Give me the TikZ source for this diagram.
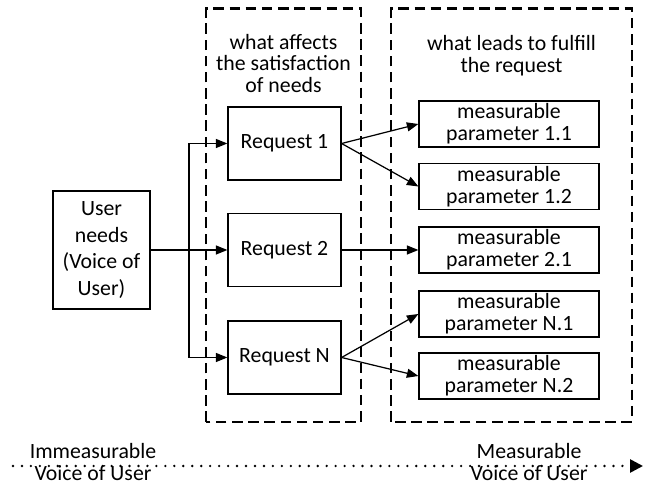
\documentclass[tikz,border=0pt]{standalone}
\usepackage{fontspec}
\setmainfont{Carlito}
\usetikzlibrary{arrows.meta,positioning,calc}

\begin{document}
\begin{tikzpicture}[
  font=\fontsize{12.4}{12.5}\selectfont,
  box/.style={draw, line width=0.7pt, align=center, inner sep=0pt},
  reqbox/.style={box, minimum width=2.26cm, minimum height=1.46cm},
  parbox/.style={box, minimum width=3.6cm, minimum height=0.92cm},
  groupbox/.style={line width=1.7pt, dash pattern=on 6pt off 3.2pt},
  link/.style={-{Triangle[length=2.3mm,width=1.8mm]}, line width=0.7pt},
  scale line/.style={-{Triangle[length=2.6mm,width=2.6mm]}, line width=1.5pt, line cap=round, dash pattern=on 0pt off 5.1pt}
]
  \useasboundingbox (0,0) rectangle (13.04,9.70);

  % Dashed groups
  \draw[groupbox] (4.12,1.26) rectangle (7.22,9.52);
  \draw[groupbox] (7.82,1.26) rectangle (12.64,9.52);
  \node[align=center] (headreq) at (5.67,8.43) {what affects\\the satisfaction\\of needs};
  \node[align=center] (headpar) at (10.23,8.58) {what leads to fulfill\\the request};

  % User needs
  \node[box, minimum width=1.94cm, minimum height=2.36cm, font=\fontsize{12.4}{15}\selectfont] (user) at (2.03,4.70) {User\\needs\\(Voice of\\User)};

  % Requests
  \node[reqbox] (req1) at (5.69,6.83) {Request 1};
  \node[reqbox] (req2) at (5.69,4.70) {Request 2};
  \node[reqbox] (reqN) at (5.69,2.55) {Request N};

  % Measurable parameters
  \node[parbox] (par11) at (10.18,7.22) {measurable\\parameter 1.1};
  \node[parbox] (par12) at (10.18,5.97) {measurable\\parameter 1.2};
  \node[parbox] (par21) at (10.18,4.70) {measurable\\parameter 2.1};
  \node[parbox] (parN1) at (10.18,3.42) {measurable\\parameter N.1};
  \node[parbox] (parN2) at (10.18,2.18) {measurable\\parameter N.2};

  % Connections
  \coordinate (split) at ($(user.east)!0.5!(req2.west)$);
  \draw[link] (user.east) -- (req2.west);
  \draw[link] (split) |- (req1.west);
  \draw[link] (split) |- (reqN.west);
  \draw[link] (req1.east) -- (par11.west);
  \draw[link] (req1.east) -- (par12.west);
  \draw[link] (req2.east) -- (par21.west);
  \draw[link] (reqN.east) -- (parN1.west);
  \draw[link] (reqN.east) -- (parN2.west);

  % Immeasurable -> measurable
  \coordinate (low) at (0.26,0.38);
  \coordinate (high) at (12.86,0.38);
  \draw[scale line] (low) -- (high);
  \node[align=center] (immeas) at (1.86,0.46) {Immeasurable\\Voice of User};
  \node[align=center] (meas) at (10.58,0.46) {Measurable\\Voice of User};
\end{tikzpicture}
\end{document}
